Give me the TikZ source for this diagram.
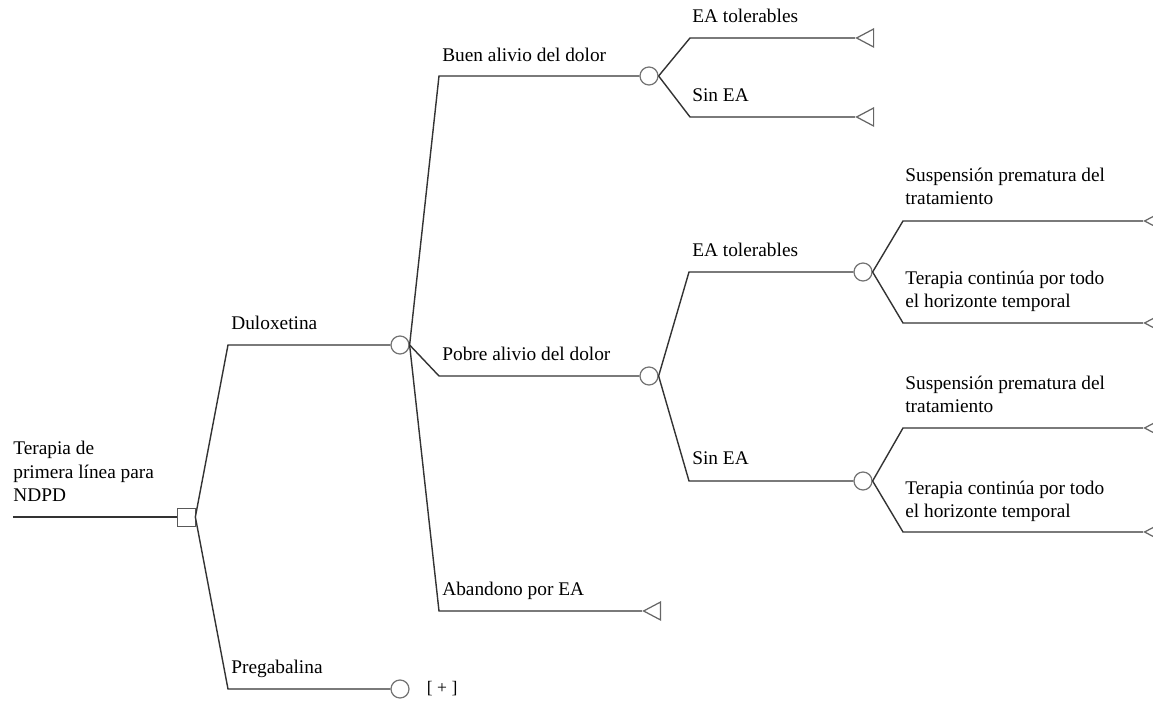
\documentclass[tikz,border=0pt]{standalone}
\usepackage{fontspec}
\setmainfont{Liberation Serif}
\usetikzlibrary{shapes.geometric,positioning}

\tikzset{
  branch/.style={draw=black!80,line width=0.8pt},
  decision/.style={rectangle,draw=black!65,fill=white,minimum size=0.36cm,inner sep=0pt},
  chance/.style={circle,draw=black!55,fill=white,line width=0.7pt,minimum size=0.36cm,inner sep=0pt},
  terminal/.style={isosceles triangle,isosceles triangle stretches,shape border rotate=180,
    draw=black!60,fill=white,line width=0.7pt,minimum height=0.34cm,minimum width=0.36cm,
    inner sep=0pt,anchor=apex},
  lbl/.style={anchor=base west,inner sep=0pt,align=left,font=\fontsize{11}{13.6}\selectfont},
}

\begin{document}
\begin{tikzpicture}
\clip (0,0) rectangle (23.06,14.04);

% nodes of the tree
\coordinate (start) at (0.26,3.70);
\node[decision] (dec) at (3.72,3.70) {};
\node[chance] (dul) at (8.00,7.14) {};
\node[chance] (pre) at (8.00,0.26) {};
\node[chance] (buen) at (12.98,12.52) {};
\node[chance] (pobre) at (12.98,6.52) {};
\node[terminal] (aband) at (12.84,1.82) {};
\node[terminal] (tolA) at (17.10,13.28) {};
\node[terminal] (sinA) at (17.10,11.70) {};
\node[chance] (tolP) at (17.26,8.60) {};
\node[chance] (sinP) at (17.26,4.42) {};
\node[terminal] (susT) at (22.86,9.62) {};
\node[terminal] (terT) at (22.86,7.58) {};
\node[terminal] (susS) at (22.86,5.48) {};
\node[terminal] (terS) at (22.86,3.40) {};

% branches
\draw[branch] (start)--(dec.west);
\draw[branch] (dec.east)--(dul.west -| 4.56,0)--(dul.west);
\draw[branch] (dec.east)--(pre.west -| 4.56,0)--(pre.west);

\draw[branch] (dul.east)--(buen.west -| 8.78,0)--(buen.west);
\draw[branch] (dul.east)--(pobre.west -| 8.78,0)--(pobre.west);
\draw[branch] (dul.east)--(aband.apex -| 8.78,0)--(aband.apex);

\draw[branch] (buen.east)--(tolA.apex -| 13.80,0)--(tolA.apex);
\draw[branch] (buen.east)--(sinA.apex -| 13.80,0)--(sinA.apex);

\draw[branch] (pobre.east)--(tolP.west -| 13.78,0)--(tolP.west);
\draw[branch] (pobre.east)--(sinP.west -| 13.78,0)--(sinP.west);

\draw[branch] (tolP.east)--(susT.apex -| 18.06,0)--(susT.apex);
\draw[branch] (tolP.east)--(terT.apex -| 18.06,0)--(terT.apex);
\draw[branch] (sinP.east)--(susS.apex -| 18.06,0)--(susS.apex);
\draw[branch] (sinP.east)--(terS.apex -| 18.06,0)--(terS.apex);

% labels (multi-line ones sit on their last line)
\node[lbl] (lRoot) at (0.26,4.00) {Terapia de\\primera línea para\\NDPD};
\node[lbl] (lDul) at (4.62,7.44) {Duloxetina};
\node[lbl] (lPre) at (4.62,0.56) {Pregabalina};
\node[lbl] (lBuen) at (8.84,12.80) {Buen alivio del dolor};
\node[lbl] (lPobre) at (8.84,6.82) {Pobre alivio del dolor};
\node[lbl] (lAband) at (8.84,2.12) {Abandono por EA};
\node[lbl] (lTolA) at (13.84,13.58) {EA tolerables};
\node[lbl] (lSinA) at (13.84,12.00) {Sin EA};
\node[lbl] (lTolP) at (13.84,8.90) {EA tolerables};
\node[lbl] (lSinP) at (13.84,4.74) {Sin EA};
\node[lbl] (lSusT) at (18.10,9.94) {Suspensión prematura del\\tratamiento};
\node[lbl] (lTerT) at (18.10,7.88) {Terapia continúa por todo\\el horizonte temporal};
\node[lbl] (lSusS) at (18.10,5.78) {Suspensión prematura del\\tratamiento};
\node[lbl] (lTerS) at (18.10,3.68) {Terapia continúa por todo\\el horizonte temporal};
\node[font=\fontsize{10}{12}\selectfont,right=0.34cm of pre,inner sep=0pt] (more) {[ + ]};

\end{tikzpicture}
\end{document}
